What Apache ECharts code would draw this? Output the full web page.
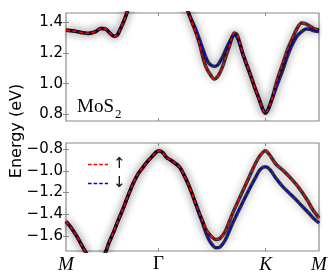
<!DOCTYPE html>
<html><head><meta charset="utf-8">
<script src="https://cdn.jsdelivr.net/npm/echarts@6/dist/echarts.min.js"></script>
<style>html,body{margin:0;padding:0;background:#fff}#c{width:332px;height:274px}</style>
</head><body><div id="c"></div>
<script>
// k-path positions: M=0, Gamma=0.866, K=1.866, M=2.366
const kTicks = [0, 0.866, 1.866, 2.366];
const kLabels = ['M', 'Γ', 'K', 'M'];
const cbTicks = [0.8, 1.0, 1.2, 1.4];
const vbTicks = [-1.6, -1.4, -1.2, -1.0, -0.8];

const cbK = [0.000,0.056,0.131,0.206,0.271,0.327,0.374,0.411,0.449,0.477,0.505,0.533,0.568,0.617,0.739,0.873,0.991,1.085,1.147,1.178,1.216,1.253,1.278,1.309,1.340,1.387,1.422,1.465,1.496,1.527,1.552,1.574,1.599,1.627,1.652,1.693,1.730,1.768,1.808,1.842,1.864,1.889,1.933,1.973,2.027,2.076,2.120,2.160,2.204,2.244,2.282,2.319,2.366];
const cbUp = [1.348,1.345,1.336,1.328,1.338,1.360,1.355,1.330,1.309,1.315,1.352,1.395,1.460,1.58,1.78,1.85,1.75,1.58,1.460,1.400,1.331,1.250,1.178,1.110,1.070,1.031,1.050,1.113,1.180,1.243,1.300,1.331,1.320,1.260,1.200,1.120,1.048,0.970,0.896,0.830,0.809,0.830,0.918,1.020,1.130,1.230,1.300,1.360,1.396,1.390,1.375,1.360,1.350];
const cbDown = [1.348,1.345,1.336,1.328,1.338,1.360,1.355,1.330,1.309,1.315,1.352,1.395,1.460,1.58,1.78,1.85,1.75,1.58,1.460,1.410,1.350,1.280,1.230,1.170,1.130,1.113,1.125,1.175,1.225,1.270,1.300,1.318,1.305,1.255,1.195,1.115,1.045,0.970,0.896,0.830,0.809,0.830,0.910,0.990,1.090,1.190,1.260,1.310,1.340,1.357,1.355,1.345,1.340];

const vbK = [0.000,0.047,0.100,0.140,0.178,0.224,0.281,0.337,0.374,0.402,0.442,0.486,0.536,0.580,0.629,0.673,0.723,0.767,0.816,0.842,0.873,0.907,0.935,0.991,1.060,1.104,1.153,1.197,1.247,1.281,1.309,1.347,1.403,1.440,1.487,1.559,1.637,1.714,1.768,1.815,1.864,1.908,1.964,2.027,2.104,2.182,2.263,2.310,2.366];
const vbUp = [-1.464,-1.52,-1.60,-1.67,-1.736,-1.81,-1.85,-1.81,-1.736,-1.66,-1.57,-1.46,-1.343,-1.23,-1.115,-1.03,-0.964,-0.91,-0.857,-0.83,-0.815,-0.835,-0.873,-0.91,-0.964,-1.04,-1.145,-1.26,-1.388,-1.47,-1.54,-1.59,-1.631,-1.62,-1.56,-1.388,-1.22,-1.055,-0.94,-0.86,-0.815,-0.86,-0.94,-0.994,-1.07,-1.161,-1.28,-1.36,-1.433];
const vbDown = [-1.464,-1.52,-1.60,-1.67,-1.736,-1.81,-1.85,-1.81,-1.736,-1.66,-1.57,-1.46,-1.343,-1.23,-1.115,-1.03,-0.964,-0.91,-0.857,-0.83,-0.815,-0.835,-0.873,-0.91,-0.964,-1.04,-1.145,-1.26,-1.40,-1.49,-1.57,-1.65,-1.707,-1.70,-1.64,-1.48,-1.32,-1.17,-1.07,-0.99,-0.964,-0.99,-1.07,-1.145,-1.22,-1.297,-1.38,-1.43,-1.479];

const pairs = (k, e) => k.map((x, i) => [x, e[i]]);
const fmt = v => (v < 0 ? '\u2212' : '') + Math.abs(v).toFixed(1);
const gray = '#8a8a8a';
const dashIcon = 'path://M0 0h3.6v1.6H0z M5.6 0h3.6v1.6H5.6z M11.2 0h3.6v1.6h-3.6z M16.8 0h3.2v1.6h-3.2z';

const chart = echarts.init(document.getElementById('c'), null, {renderer: 'canvas'});

function xAx(grid, pos, labels) {
  return {
    type: 'value', gridIndex: grid, position: pos, min: 0, max: 2.366,
    axisLine: {show: false}, splitLine: {show: false},
    axisTick: {show: true, inside: true, length: 3, lineStyle: {color: gray}, customValues: [kTicks[1], kTicks[2]]},
    axisLabel: labels ? {
      show: true, margin: 4, customValues: kTicks, hideOverlap: false,
      formatter: v => { const i = kTicks.findIndex(t => Math.abs(t - v) < 1e-6); const s = kLabels[i]; return s === 'Γ' ? '{n|' + s + '}' : '{i|' + s + '}'; },
      rich: {
        i: {fontFamily: 'Liberation Serif', fontStyle: 'italic', fontSize: 19, color: '#000'},
        n: {fontFamily: 'Liberation Serif', fontSize: 19, color: '#000'}
      }
    } : {show: false}
  };
}
function yAx(grid, pos, min, max, ticks, labels) {
  return {
    type: 'value', gridIndex: grid, position: pos, min: min, max: max,
    axisLine: {show: false}, splitLine: {show: false},
    axisTick: {show: true, inside: true, length: 3, lineStyle: {color: gray}, customValues: ticks},
    axisLabel: labels ? {show: true, margin: 3, customValues: ticks, formatter: fmt,
      fontFamily: 'DejaVu Sans', fontSize: 15, color: '#000'} : {show: false}
  };
}

const bandStyle = {color: 'rgba(0,0,0,0.78)', width: 3.5, shadowBlur: 8, shadowColor: 'rgba(0,0,0,0.45)'};
function bg(name, xi, yi, data) {
  return {name: name, type: 'line', xAxisIndex: xi, yAxisIndex: yi, data: data, showSymbol: false, symbol: 'none',
    smooth: 0.3, lineStyle: bandStyle, z: 1, silent: true};
}
function spin(name, xi, yi, data, color) {
  return {name: name, type: 'line', xAxisIndex: xi, yAxisIndex: yi, data: data, showSymbol: false, symbol: 'none',
    smooth: 0.3, lineStyle: {color: color, width: 1.6, type: [4, 2.5]}, itemStyle: {color: color}, z: 3};
}

const option = {
  animation: false,
  backgroundColor: '#fff',
  grid: [
    {left: 66, top: 13, width: 253, height: 108, show: true, borderColor: gray, borderWidth: 1.2, backgroundColor: '#fff'},
    {left: 66, top: 143, width: 253, height: 109, show: true, borderColor: gray, borderWidth: 1.2, backgroundColor: '#fff'}
  ],
  xAxis: [xAx(0, 'bottom', false), xAx(0, 'top', false), xAx(1, 'bottom', true), xAx(1, 'top', false)],
  yAxis: [yAx(0, 'left', 0.757, 1.461, cbTicks, true), yAx(0, 'right', 0.757, 1.461, cbTicks, false),
          yAx(1, 'left', -1.736, -0.745, vbTicks, true), yAx(1, 'right', -1.736, -0.745, vbTicks, false)],
  legend: {
    data: [{name: '↑', icon: dashIcon}, {name: '↓', icon: dashIcon}],
    orient: 'vertical', left: 83, top: 152, itemWidth: 20, itemHeight: 14, itemGap: 4,
    textStyle: {fontFamily: 'DejaVu Sans', fontSize: 15, color: '#000'}
  },
  graphic: [
    {type: 'text', x: 17, y: 131, rotation: Math.PI / 2,
     style: {text: 'Energy (eV)', fontFamily: 'DejaVu Sans', fontSize: 16, fill: '#000', align: 'center', verticalAlign: 'middle'}},
    {type: 'text', x: 77, y: 97, z: 10,
     style: {text: '{a|MoS}{b|2}', rich: {
       a: {fontFamily: 'Liberation Serif', fontSize: 19, fill: '#000', lineHeight: 20, verticalAlign: 'bottom'},
       b: {fontFamily: 'Liberation Serif', fontSize: 13, fill: '#000', lineHeight: 20, verticalAlign: 'bottom', padding: [0, 0, -4, 1]}
     }}}
  ],
  series: [
    bg('bgCu', 0, 0, pairs(cbK, cbUp)), bg('bgCd', 0, 0, pairs(cbK, cbDown)),
    bg('bgVu', 2, 2, pairs(vbK, vbUp)), bg('bgVd', 2, 2, pairs(vbK, vbDown)),
    spin('↓', 0, 0, pairs(cbK, cbDown), '#0000ff'),
    spin('↑', 0, 0, pairs(cbK, cbUp), '#ff0000'),
    spin('↓', 2, 2, pairs(vbK, vbDown), '#0000ff'),
    spin('↑', 2, 2, pairs(vbK, vbUp), '#ff0000')
  ]
};
chart.setOption(option);
</script></body></html>
